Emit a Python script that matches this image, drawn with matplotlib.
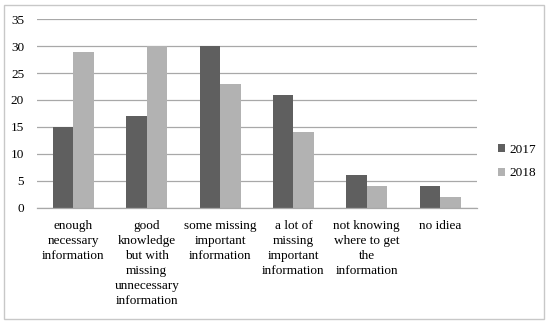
import matplotlib.pyplot as plt
import numpy as np
from matplotlib.patches import Rectangle

categories = [
    "enough\nnecessary\ninformation",
    "good\nknowledge\nbut with\nmissing\nunnecessary\ninformation",
    "some missing\nimportant\ninformation",
    "a lot of\nmissing\nimportant\ninformation",
    "not knowing\nwhere to get\nthe\ninformation",
    "no idiea",
]
values_2017 = [15, 17, 30, 21, 6, 4]
values_2018 = [29, 30, 23, 14, 4, 2]
yticks = [0, 5, 10, 15, 20, 25, 30, 35]

plt.rcParams['font.family'] = ['Liberation Serif', 'DejaVu Serif']

fig = plt.figure(figsize=(5.5, 3.26), dpi=100)
ax = fig.add_axes([0.0667, 0.363, 0.8003, 0.578])

x = np.arange(len(categories))
w = 0.28
ax.bar(x - w / 2, values_2017, w, color='#5f5f5f', label='2017', zorder=3)
ax.bar(x + w / 2, values_2018, w, color='#b2b2b2', label='2018', zorder=3)

ax.set_xlim(-0.5, len(categories) - 0.5)
ax.set_ylim(0, 35)
ax.set_yticks(yticks)
ax.yaxis.grid(True, color='#a8a8a8', linewidth=0.9, zorder=0)
for s in ['top', 'right', 'left']:
    ax.spines[s].set_visible(False)
ax.spines['bottom'].set_color('#a8a8a8')
ax.spines['bottom'].set_linewidth(0.9)
ax.spines['bottom'].set_zorder(4)
ax.tick_params(axis='y', length=0, pad=9, labelsize=9.5)
ax.set_xticks(x)
ax.set_xticklabels(categories, fontsize=9.5, linespacing=1.33, va='top')
ax.tick_params(axis='x', length=0, pad=9)

ax.legend(loc='center left', bbox_to_anchor=(1.02, 0.245), frameon=False,
          fontsize=9.5, handlelength=0.6, handleheight=0.6, handletextpad=0.3,
          labelspacing=0.9)

fig.patches.append(Rectangle((0.0073, 0.0215), 0.9817, 0.9635, transform=fig.transFigure,
                             fill=False, edgecolor='#c8c8c8', linewidth=1.0))

fig.savefig('out.png', dpi=100)
